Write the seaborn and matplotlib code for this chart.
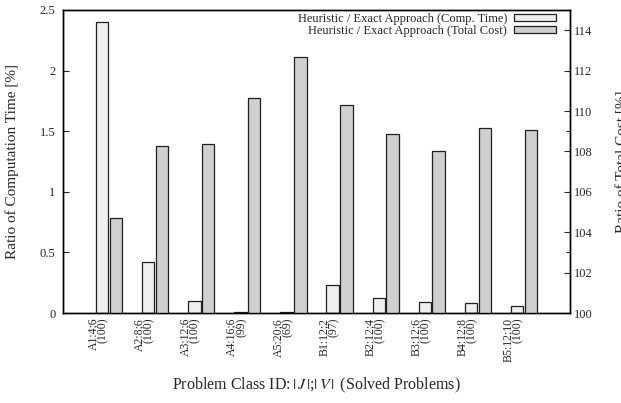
import matplotlib
matplotlib.use('Agg')
import matplotlib.pyplot as plt
from matplotlib.patches import Patch
from matplotlib.ticker import FixedLocator
import seaborn as sns
import pandas as pd
import numpy as np

# Problem classes and the values
classes = ['A1:4;6', 'A2:8;6', 'A3:12;6', 'A4:16;6', 'A5:20;6',
           'B1:12;2', 'B2:12;4', 'B3:12;6', 'B4:12;8', 'B5:12;10']
solved = [100, 100, 100, 99, 69, 97, 100, 100, 100, 100]
comp_time = [2.40, 0.42, 0.10, 0.011, 0.005, 0.234, 0.127, 0.094, 0.080, 0.058]
total_cost = [104.72, 108.29, 108.39, 110.64, 112.65,
              110.28, 108.85, 108.03, 109.17, 109.05]

lbl_time = 'Heuristic / Exact Approach (Comp. Time)'
lbl_cost = 'Heuristic / Exact Approach (Total Cost)'
colors = {lbl_time: '#efefef', lbl_cost: '#d0d0d0'}

sns.set_style('ticks')
plt.rcParams['font.family'] = ['Liberation Serif', 'DejaVu Serif']
plt.rcParams['mathtext.fontset'] = 'stix'

# long table: each axis only gets its own series, the other one is NaN
df = pd.DataFrame({
    'cls': classes * 2,
    'series': [lbl_time] * len(classes) + [lbl_cost] * len(classes),
    'time': comp_time + [np.nan] * len(classes),
    'cost': [np.nan] * len(classes) + total_cost,
})

fig = plt.figure(figsize=(6.21, 4.03), dpi=100)
ax = fig.add_axes([63 / 621, 1 - 313 / 403, 507 / 621, 303 / 403])
ax2 = ax.twinx()

kw = dict(x='cls', hue='series', order=classes, hue_order=[lbl_time, lbl_cost],
          palette=colors, width=0.6, gap=0.1, edgecolor='#202020', linewidth=0.9,
          legend=False, saturation=1)
sns.barplot(data=df, y='time', ax=ax, **kw)
sns.barplot(data=df, y='cost', ax=ax2, **kw)

ax.set_xlim(-1, len(classes))
ax.set_ylim(0, 2.5)
ax2.set_ylim(100, 115)

ax.set_yticks([0, 0.5, 1, 1.5, 2, 2.5])
ax.set_yticklabels(['0', '0.5', '1', '1.5', '2', '2.5'])
ax2.set_yticks(range(100, 115, 2))
ax2.yaxis.set_minor_locator(FixedLocator([103, 109]))

ax.set_xticks(range(len(classes)))
ax.set_xticklabels([f'{c}\n({s})' for c, s in zip(classes, solved)],
                   rotation=90, ha='right', va='top', multialignment='right',
                   fontsize=8.5, linespacing=0.75)

ax.tick_params(axis='x', length=0, pad=3.5)
ax.tick_params(axis='y', direction='in', length=4, width=0.8, labelsize=9, pad=5.5)
ax2.tick_params(axis='y', which='major', direction='in', length=4, width=0.8,
                labelsize=9, pad=2.5)
ax2.tick_params(axis='y', which='minor', direction='in', length=3, width=0.8)

for a in (ax, ax2):
    for s in a.spines.values():
        s.set_visible(True)
        s.set_linewidth(1.0)
        s.set_color('black')

ax.set_xlabel(r'Problem Class ID:$\,|\,J\,|$;$|\,V\,|\,$ (Solved Problems)',
              fontsize=11.5, labelpad=10)
ax.set_ylabel('Ratio of Computation Time [%]', fontsize=11, labelpad=15)
ax2.set_ylabel('Ratio of Total Cost [%]', fontsize=11, rotation=90, labelpad=17)

handles = [Patch(facecolor=colors[lbl_time], edgecolor='#202020', linewidth=0.9),
           Patch(facecolor=colors[lbl_cost], edgecolor='#202020', linewidth=0.9)]
ax.legend(handles, [lbl_time, lbl_cost], loc='upper right', frameon=False,
          markerfirst=False, fontsize=9, handlelength=3.4, handleheight=0.5,
          handletextpad=0.5, labelspacing=0.0, borderaxespad=0, borderpad=0,
          bbox_to_anchor=(556 / 621, 1 - 13 / 403),
          bbox_transform=fig.transFigure)

fig.savefig('out.png', dpi=100)
